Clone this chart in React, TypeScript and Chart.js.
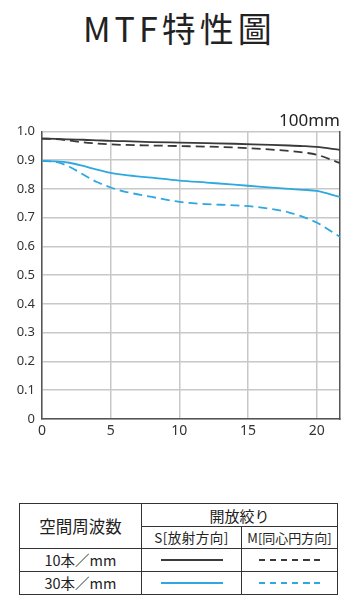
import React, { useEffect, useRef } from "react";
import { Chart, registerables } from "chart.js";

Chart.register(...registerables);

// spatial position from image centre (mm)
const freq = [0, 1, 2, 3, 4, 5, 6, 8, 10, 12, 14, 16, 18, 19, 20, 21.7];
// 10 lines/mm
const s10 = [0.975, 0.974, 0.972, 0.971, 0.969, 0.967, 0.966, 0.963, 0.961, 0.959, 0.957, 0.954, 0.951, 0.949, 0.946, 0.936];
const m10 = [0.975, 0.973, 0.968, 0.962, 0.958, 0.955, 0.953, 0.951, 0.949, 0.947, 0.944, 0.939, 0.932, 0.927, 0.919, 0.89];
// 30 lines/mm
const s30 = [0.897, 0.896, 0.891, 0.88, 0.867, 0.856, 0.849, 0.839, 0.829, 0.822, 0.815, 0.807, 0.8, 0.797, 0.793, 0.772];
const m30 = [0.897, 0.894, 0.877, 0.85, 0.824, 0.805, 0.791, 0.772, 0.755, 0.747, 0.743, 0.735, 0.718, 0.703, 0.683, 0.633];

const xMax = 21.7;
const xStep = 5;
const yStep = 0.1;
const focalLabel = "100mm";
const titleText = "MTF特性圖";

const BLACK = "#3a3a3a";
const BLUE = "#2ea8e0";

const pts = (ys: number[]) => ys.map((y, i) => ({ x: freq[i], y }));

function MtfChart() {
  const ref = useRef<HTMLCanvasElement | null>(null);
  useEffect(() => {
    if (!ref.current) return;
    const line = (data: number[], color: string, dash: number[]) => ({
      data: pts(data),
      borderColor: color,
      borderWidth: 1.8,
      borderDash: dash,
      pointRadius: 0,
      fill: false,
      cubicInterpolationMode: "monotone" as const,
    });
    const tickFont = { family: "Noto Sans", size: 13 };
    const chart = new Chart(ref.current, {
      type: "line",
      data: {
        datasets: [
          line(s10, BLACK, []),
          line(m10, BLACK, [9, 5]),
          line(s30, BLUE, []),
          line(m30, BLUE, [9, 5]),
        ],
      },
      options: {
        responsive: false,
        animation: false,
        layout: { padding: { top: 6, right: 9, left: 0, bottom: 0 } },
        plugins: {
          legend: { display: false },
          tooltip: { enabled: false },
          title: {
            display: true,
            text: focalLabel,
            align: "end",
            color: "#222",
            font: { family: "Noto Sans", size: 17, weight: "normal" },
            padding: { top: 0, bottom: 0 },
          },
        },
        scales: {
          x: {
            type: "linear",
            min: 0,
            max: xMax,
            ticks: {
              stepSize: xStep,
              includeBounds: false,
              color: "#333",
              font: { family: "Noto Sans", size: 14 },
              padding: 4,
              maxRotation: 0,
            },
            grid: { color: "#c8c8c8", lineWidth: 1.5, drawTicks: false },
            border: { color: "#555", width: 1.5 },
            afterFit: (s: any) => {
              s.height = 26;
            },
          },
          y: {
            min: 0,
            max: 1,
            ticks: {
              stepSize: yStep,
              color: "#333",
              font: tickFont,
              padding: 7,
              callback: (v: any) => (Number(v) === 0 ? "0" : Number(v).toFixed(1)),
            },
            grid: { color: "#c8c8c8", lineWidth: 1.5, drawTicks: false },
            border: { color: "#555", width: 1.5 },
            afterFit: (s: any) => {
              s.width = 34;
            },
          },
          y2: {
            position: "right",
            min: 0,
            max: 1,
            ticks: { display: false },
            grid: { display: false, drawTicks: false },
            border: { color: "#555", width: 1.5 },
            afterFit: (s: any) => {
              s.width = 0;
            },
          },
        },
      },
    });
    return () => chart.destroy();
  }, []);
  return (
    <canvas
      ref={ref}
      width={341}
      height={340}
      style={{ position: "absolute", left: 0, top: 97, width: 341, height: 340 }}
    />
  );
}

const cell: React.CSSProperties = {
  border: "1.5px solid #333",
  padding: 0,
  textAlign: "center",
  verticalAlign: "middle",
  color: "#222",
  lineHeight: 1,
};

function LegendLine({ color, dashed }: { color: string; dashed: boolean }) {
  return (
    <div
      style={{
        width: 62,
        height: 2,
        margin: "0 auto",
        background: dashed
          ? `repeating-linear-gradient(to right, ${color} 0 6.5px, transparent 6.5px 11px)`
          : color,
      }}
    />
  );
}

function SpecTable() {
  return (
    <table
      style={{
        position: "absolute",
        left: 11,
        top: 495,
        width: 318,
        height: 92,
        borderCollapse: "collapse",
        fontFamily: "'Noto Sans CJK JP', sans-serif",
        tableLayout: "fixed",
      }}
    >
      <colgroup>
        <col style={{ width: 122 }} />
        <col style={{ width: 100 }} />
        <col style={{ width: 96 }} />
      </colgroup>
      <tbody>
        <tr style={{ height: 23 }}>
          <td rowSpan={2} style={{ ...cell, fontSize: 16.5 }}>空間周波数</td>
          <td colSpan={2} style={{ ...cell, fontSize: 15 }}>開放絞り</td>
        </tr>
        <tr style={{ height: 22 }}>
          <td style={{ ...cell, fontSize: 13.5, letterSpacing: 0.5 }}>S[放射方向]</td>
          <td style={{ ...cell, fontSize: 13 }}>M[同心円方向]</td>
        </tr>
        <tr style={{ height: 23 }}>
          <td style={{ ...cell, fontSize: 14.5 }}>10本／mm</td>
          <td style={cell}><LegendLine color={BLACK} dashed={false} /></td>
          <td style={cell}><LegendLine color={BLACK} dashed={true} /></td>
        </tr>
        <tr style={{ height: 23 }}>
          <td style={{ ...cell, fontSize: 14.5 }}>30本／mm</td>
          <td style={cell}><LegendLine color={BLUE} dashed={false} /></td>
          <td style={cell}><LegendLine color={BLUE} dashed={true} /></td>
        </tr>
      </tbody>
    </table>
  );
}

export default function App() {
  return (
    <div style={{ position: "relative", width: 341, height: 592 }}>
      <div
        style={{
          position: "absolute",
          left: 75,
          top: 3,
          fontFamily: "'Noto Sans CJK TC', 'Noto Sans', sans-serif",
          fontSize: 34,
          letterSpacing: 4,
          lineHeight: 1,
          color: "#222",
          whiteSpace: "nowrap",
        }}
      >
        {titleText}
      </div>
      <MtfChart />
      <SpecTable />
    </div>
  );
}
